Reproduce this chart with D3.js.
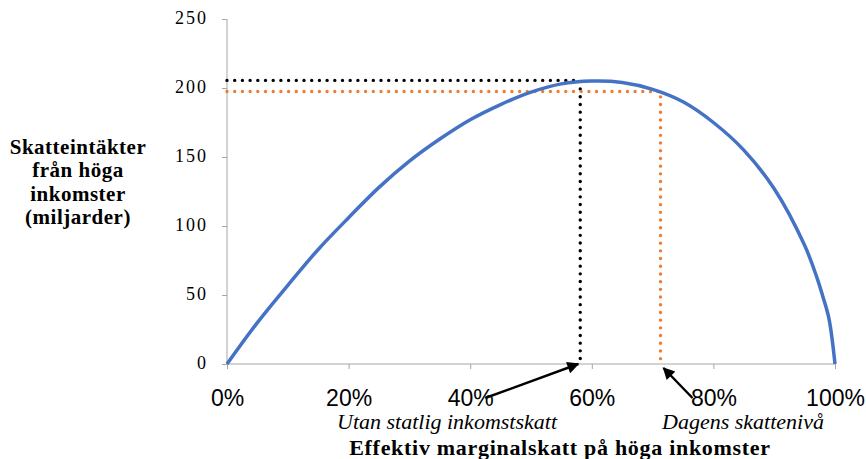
<!DOCTYPE html>
<html>
<head>
<meta charset="utf-8">
<script src="https://cdn.jsdelivr.net/npm/d3@7/dist/d3.min.js"></script>
<style>
	body { margin: 0; background: #fff; }
	svg { display: block; }
	.yaxis text { font-family: "Liberation Serif", serif; font-size: 18px; font-variant-numeric: oldstyle-nums; letter-spacing: 2px; }
	.xaxis text { font-family: "Liberation Sans", Arial, sans-serif; font-size: 23px; }
</style>
</head>
<body>
<svg id="svg_chart" width="866" height="459"></svg>
<script>
// skattesats (andel) och skatteintäkter (miljarder)
var taxRates = [0, 0.05, 0.10, 0.15, 0.20, 0.25, 0.30, 0.35, 0.40, 0.45, 0.50, 0.55, 0.60, 0.65, 0.70, 0.75, 0.80, 0.85, 0.90, 0.95, 0.97, 0.98, 0.99, 1.00];
var revenue = [0, 30, 57, 83, 106, 128, 147, 163, 177, 188, 197, 203, 205, 204, 199, 190, 175, 155, 127, 86, 63, 49, 33, 0];

var xTicks = [0, 0.2, 0.4, 0.6, 0.8, 1.0];
var yTicks = [0, 50, 100, 150, 200, 250];

// referenslinjer
var refLines = [
	{ "name": "utan", "rate": 0.581, "value": 205.5, "color": "#000000" },
	{ "name": "dagens", "rate": 0.713, "value": 197.5, "color": "#ED7D31" }
];

var yTitle = ["Skatteintäkter", "från höga", "inkomster", "(miljarder)"];
var xTitle = "Effektiv marginalskatt på höga inkomster";

var svg = d3.select("#svg_chart"),
	margin = { top: 19, left: 227, right: 31, bottom: 95 },
	width = +svg.attr("width"),
	height = +svg.attr("height");

var x = d3.scaleLinear().domain([0, 1]).range([margin.left, width - margin.right]);
var y = d3.scaleLinear().domain([0, 250]).range([height - margin.bottom, margin.top]);

// axlar
var gy = svg.append("g").attr("class", "yaxis")
	.attr("transform", "translate(" + margin.left + ",0)")
	.call(d3.axisLeft(y).tickValues(yTicks).tickSize(5).tickPadding(14).tickFormat(d3.format("d")));
var gx = svg.append("g").attr("class", "xaxis")
	.attr("transform", "translate(0," + y(0) + ")")
	.call(d3.axisBottom(x).tickValues(xTicks).tickSize(5).tickPadding(21).tickFormat(d3.format(".0%")));
gy.select(".domain").remove();
gx.select(".domain").remove();
svg.selectAll(".yaxis line, .xaxis line").attr("stroke", "#a6a6a6");
svg.append("line").attr("x1", x(0)).attr("x2", x(0)).attr("y1", y(250)).attr("y2", y(0)).attr("stroke", "#a6a6a6");
svg.append("line").attr("x1", x(0)).attr("x2", x(1)).attr("y1", y(0)).attr("y2", y(0)).attr("stroke", "#a6a6a6");
gy.selectAll("text").attr("fill", "#000").attr("dy", "0.25em");
gx.selectAll("text").attr("fill", "#000");

// prickade referenslinjer
var g_ref = svg.append("g");
refLines.forEach(function(d) {
	g_ref.append("path")
		.attr("d", "M" + x(0) + "," + y(d.value) + "H" + x(d.rate) + "V" + y(0))
		.attr("fill", "none")
		.attr("stroke", d.color)
		.attr("stroke-width", 3.4)
		.attr("stroke-linecap", "round")
		.attr("stroke-dasharray", "0 7.7");
});

// kurvan
var line = d3.line()
	.x(function(d, i) { return x(taxRates[i]); })
	.y(function(d) { return y(d); })
	.curve(d3.curveCatmullRom.alpha(0.5));
svg.append("path")
	.attr("d", line(revenue))
	.attr("fill", "none")
	.attr("stroke", "#4472C4")
	.attr("stroke-width", 3.5);

// pilar
svg.append("defs").append("marker")
	.attr("id", "arrow")
	.attr("viewBox", "0 0 10 10")
	.attr("refX", 9).attr("refY", 5)
	.attr("markerWidth", 6).attr("markerHeight", 5)
	.attr("markerUnits", "strokeWidth")
	.attr("orient", "auto")
	.append("path").attr("d", "M0,0L10,5L0,10z").attr("fill", "#000");

var arrows = [
	{ "rate": refLines[0].rate, "dx": -93, "dy": 34, "tx": -2, "ty": 0 },
	{ "rate": refLines[1].rate, "dx": 29, "dy": 30, "tx": 3, "ty": 4 }
];
arrows.forEach(function(a) {
	var tx = x(a.rate) + a.tx, ty = y(0) + a.ty;
	svg.append("line")
		.attr("x1", tx + a.dx).attr("y1", ty + a.dy)
		.attr("x2", tx).attr("y2", ty)
		.attr("stroke", "#000")
		.attr("stroke-width", 2.4)
		.attr("marker-end", "url(#arrow)");
});

// texter
svg.append("text")
	.attr("x", 337).attr("y", 429)
	.style("font-family", "'Liberation Serif', serif")
	.style("font-style", "italic")
	.style("font-size", "22px")
	.text("Utan statlig inkomstskatt");
svg.append("text")
	.attr("x", 662).attr("y", 429)
	.style("font-family", "'Liberation Serif', serif")
	.style("font-style", "italic")
	.style("font-size", "22px")
	.text("Dagens skattenivå");

svg.append("text")
	.attr("x", 560).attr("y", 455)
	.attr("text-anchor", "middle")
	.style("font-family", "'Liberation Serif', serif")
	.style("font-weight", "bold")
	.style("font-size", "22px")
	.style("letter-spacing", "0.7px")
	.text(xTitle);

var yt = svg.append("text")
	.attr("text-anchor", "middle")
	.style("font-family", "'Liberation Serif', serif")
	.style("font-weight", "bold")
	.style("font-size", "21px")
	.style("letter-spacing", "0.5px");
yTitle.forEach(function(s, i) {
	yt.append("tspan").attr("x", 78).attr("y", 154 + i * 23.4).text(s);
});
</script>
</body>
</html>
